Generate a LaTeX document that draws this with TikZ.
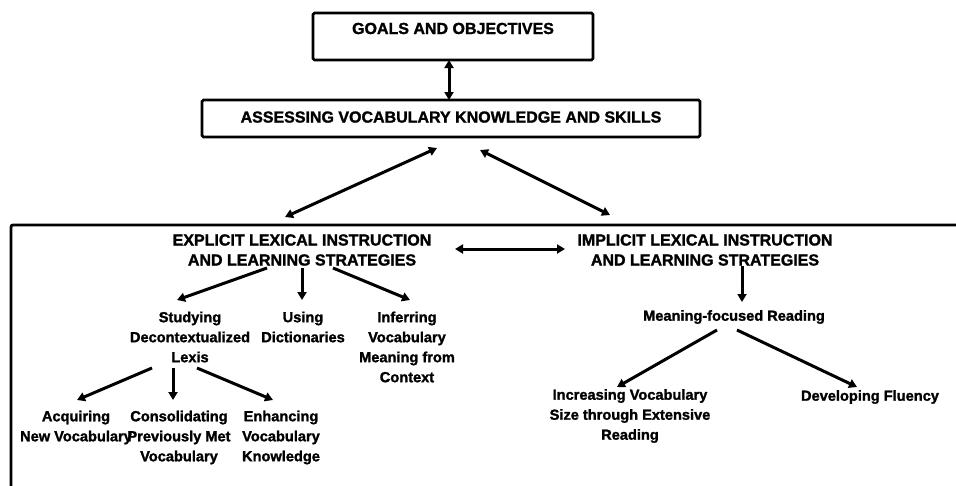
\documentclass[tikz,border=0pt]{standalone}
\usepackage{fontspec}
\setmainfont{Liberation Sans}[BoldFeatures={FakeBold=1.5}]
\usetikzlibrary{arrows.meta,calc}

\begin{document}
\begin{tikzpicture}[
        x=1pt, y=-1pt,
        box/.style={rectangle, draw=black, line width=2.6pt, rounded corners=1.5pt, inner sep=0pt, font=\fontsize{16}{20}\selectfont\bfseries},
        header/.style={align=center, inner sep=0pt, font=\fontsize{16}{20}\selectfont\bfseries},
        item/.style={align=center, inner sep=0pt, font=\fontsize{14.6}{20}\selectfont\bfseries},
        arrow/.style={-{Triangle[length=8pt,width=9pt]}, line width=3pt, draw=black},
        dblarrow/.style={{Triangle[length=8pt,width=9pt]}-{Triangle[length=8pt,width=9pt]}, line width=3pt, draw=black}
    ]
        \useasboundingbox (0,0) rectangle (956,485);

        % Top boxes
        \node[box, minimum width=280pt, minimum height=47pt, text height=21pt, text depth=26pt] (goals) at (453,36.5) {GOALS AND OBJECTIVES};
        \node[box, minimum width=498pt, minimum height=37pt, text depth=3pt] (assess) at (451,118.5) {ASSESSING VOCABULARY KNOWLEDGE AND SKILLS};

        % Open frame
        \draw[line width=2.8pt, rounded corners=2pt] (11,490) -- (11,225) -- (960,225);

        % Strategy headers
        \node[header] (explicit) at (302,250) {EXPLICIT LEXICAL INSTRUCTION\\AND LEARNING STRATEGIES};
        \node[header] (implicit) at (705,250) {IMPLICIT LEXICAL INSTRUCTION\\AND LEARNING STRATEGIES};

        % Explicit branch
        \node[item] (studying) at (190,337) {Studying\\Decontextualized\\Lexis};
        \node[item] (using) at (303,327) {Using\\Dictionaries};
        \node[item] (inferring) at (407,347) {Inferring\\Vocabulary\\Meaning from\\Context};
        \node[item] (acquiring) at (76,427.5) {Acquiring\\New Vocabulary};
        \node[item] (consolidating) at (179,437.5) {Consolidating\\Previously Met\\Vocabulary};
        \node[item] (enhancing) at (281,437.5) {Enhancing\\Vocabulary\\Knowledge};

        % Implicit branch
        \node[item] (meaning) at (734,317) {Meaning-focused Reading};
        \node[item] (increasing) at (630,416) {Increasing Vocabulary\\Size through Extensive\\Reading};
        \node[item] (fluency) at (870,397) {Developing Fluency};

        % Connectors
        \draw[dblarrow] ($(goals)+(-4,23.5)$) -- ($(assess)+(-2,-18.5)$);
        \draw[dblarrow] ($(assess)+(-14,29.5)$) -- ($(explicit)+(-17,-33)$);
        \draw[dblarrow] ($(assess)+(29,31.5)$) -- ($(implicit)+(-95,-35)$);
        \draw[dblarrow] ($(explicit)+(153,-1)$) -- ($(implicit)+(-140,-1)$);

        \draw[arrow] ($(explicit)+(-35,18)$) -- ($(studying)+(-13,-37)$);
        \draw[arrow] ($(explicit)+(0,18)$) -- ($(using)+(-1,-27)$);
        \draw[arrow] ($(explicit)+(31,18)$) -- ($(inferring)+(3,-47)$);

        \draw[arrow] ($(studying)+(-38,31)$) -- ($(acquiring)+(1,-27.5)$);
        \draw[arrow] ($(studying)+(-17,31)$) -- ($(consolidating)+(-6,-37.5)$);
        \draw[arrow] ($(studying)+(7,31)$) -- ($(enhancing)+(-8,-37.5)$);

        \draw[arrow] ($(implicit)+(37,16)$) -- ($(meaning)+(8,-15)$);
        \draw[arrow] ($(meaning)+(-17,13)$) -- ($(increasing)+(-13,-29)$);
        \draw[arrow] ($(meaning)+(3,13)$) -- ($(fluency)+(-13,-10)$);
    \end{tikzpicture}
\end{document}
